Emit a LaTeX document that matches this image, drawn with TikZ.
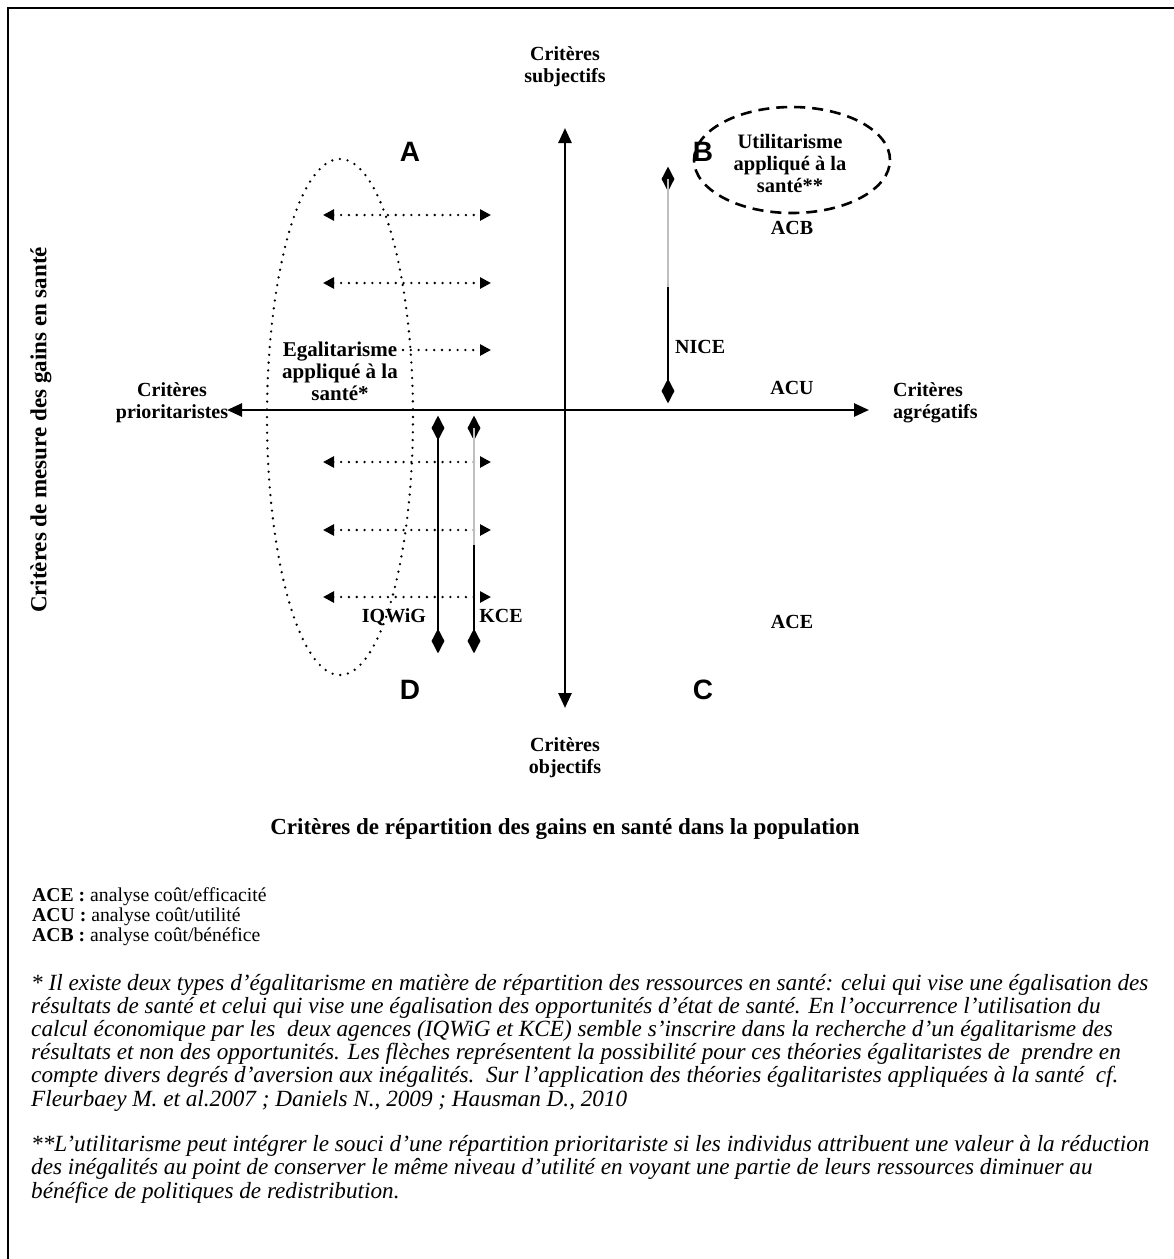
\documentclass[tikz,border=0pt]{standalone}
\usepackage{fontspec}
\setmainfont{Liberation Serif}
\newfontfamily\lettersf{Liberation Sans}
\usetikzlibrary{arrows.meta,shapes.geometric}
\begin{document}
\begin{tikzpicture}[x=1pt,y=-1pt,
  lbl/.style={font=\fontsize{20}{22}\selectfont\bfseries, align=center, inner sep=0pt},
  biglbl/.style={font=\fontsize{23}{25}\selectfont\bfseries, align=center, inner sep=0pt},
  quad/.style={font=\fontsize{28}{30}\selectfont\lettersf\bfseries, inner sep=0pt},
  axis/.style={line width=2.6pt, {Triangle[length=15pt,width=13pt]}-{Triangle[length=15pt,width=13pt]}},
  dots/.style={line width=2.6pt, dash pattern=on 0pt off 7.8pt, line cap=round},
  dotarrow/.style={dots,
     {Triangle[length=11pt,width=11pt,line cap=butt]}-{Triangle[length=11pt,width=11pt,line cap=butt]}},
  dotarrowr/.style={dots, -{Triangle[length=11pt,width=11pt,line cap=butt]}},
  dia/.style={shape=diamond, fill=black, draw=none, minimum width=13pt, minimum height=25pt, inner sep=0pt},
  vbar/.style={line width=2.8pt},
  gbar/.style={line width=2.8pt, draw=black!25},
  foot/.style={font=\fontsize{23.2}{23.2}\selectfont\itshape, align=left, anchor=base west, inner sep=0pt},
  leg/.style={font=\fontsize{19.7}{20}\selectfont, anchor=west, inner sep=0pt}
]
\useasboundingbox (0,0) rectangle (1174,1259);
% frame
\draw[line width=2.8pt] (1174,8) -- (8,8) -- (8,1259);

% axes
\coordinate (axT) at (565,128);
\coordinate (axB) at (565,708);
\coordinate (axL) at (227,410);
\coordinate (axR) at (869,410);
\draw[axis] (axB) -- (axT);
\draw[axis] (axL) -- (axR);

% axis labels
\node[lbl] (subj) at (565,67) {Critères\\subjectifs};
\node[lbl] (obj) at (565,758) {Critères\\objectifs};
\node[lbl] (prio) at (172,403) {Critères\\prioritaristes};
\node[lbl, align=left, anchor=west] (agr) at (893,403) {Critères\\agrégatifs};
\node[biglbl, rotate=90] (ylab) at (41,430) {Critères de mesure des gains en santé};
\node[biglbl] (xlab) at (565,829) {Critères de répartition des gains en santé dans la population};

% quadrant letters
\node[quad] (qA) at (410,152) {A};
\node[quad] (qB) at (703,152) {B};
\node[quad] (qC) at (703,690) {C};
\node[quad] (qD) at (410,690) {D};

% dotted ellipse (egalitarism)
\node[draw, ellipse, dots, minimum width=146pt, minimum height=516pt, inner sep=0pt] (egEll) at (340,417) {};

% dotted arrows
\coordinate (l1) at (323,215); \coordinate (r1) at (491,215);
\coordinate (l2) at (323,283); \coordinate (r2) at (491,283);
\coordinate (l3) at (403,350); \coordinate (r3) at (491,350);
\coordinate (l4) at (323,462); \coordinate (r4) at (491,462);
\coordinate (l5) at (323,530); \coordinate (r5) at (491,530);
\coordinate (l6) at (323,597); \coordinate (r6) at (491,597);
\draw[dotarrow] (l1) -- (r1);
\draw[dotarrow] (l2) -- (r2);
\draw[dotarrowr] (l3) -- (r3);
\draw[dotarrow] (l4) -- (r4);
\draw[dotarrow] (l5) -- (r5);
\draw[dotarrow] (l6) -- (r6);

\node[lbl, font=\fontsize{21}{22}\selectfont\bfseries] (egal) at (340,371) {Egalitarisme\\appliqué à la\\santé*};

% dashed ellipse (utilitarism)
\node[draw, ellipse, line width=2.6pt, dash pattern=on 11pt off 7pt,
      minimum width=196pt, minimum height=106pt, inner sep=0pt] (utEll) at (792,160) {};
\node[lbl, font=\fontsize{20.5}{22}\selectfont\bfseries] (util) at (790,163) {Utilitarisme\\appliqué à la\\santé**};

% NICE
\node[dia] (niceT) at (668,179) {};
\node[dia] (niceB) at (668,391) {};
\coordinate (niceM) at (668,287);
\draw[gbar] (niceT.center) -- (niceM);
\draw[vbar] (niceM) -- (niceB.center);
\node[lbl, anchor=west] (nice) at (675,347) {NICE};

% IQWiG
\node[dia] (iqT) at (438,428) {};
\node[dia] (iqB) at (438,641) {};
\draw[vbar] (iqT.center) -- (iqB.center);
\node[lbl] (iq) at (394,617) {IQWiG};

% KCE
\node[dia] (kceT) at (474,428) {};
\node[dia] (kceB) at (474,641) {};
\coordinate (kceM) at (474,545);
\draw[gbar] (kceT.center) -- (kceM);
\draw[vbar] (kceM) -- (kceB.center);
\node[lbl] (kce) at (501,616) {KCE};

% method labels
\node[lbl] (acb) at (792,228) {ACB};
\node[lbl] (acu) at (792,388) {ACU};
\node[lbl] (ace) at (792,622) {ACE};

% legend
\node[leg] (lg1) at (32,897) {\textbf{ACE :} analyse coût/efficacité};
\node[leg] (lg2) at (32,917) {\textbf{ACU :} analyse coût/utilité};
\node[leg] (lg3) at (32,937) {\textbf{ACB :} analyse coût/bénéfice};

% footnotes (anchored at the baseline of their last line)
\node[foot] (fn1) at (31,1106) {* Il existe deux types d’égalitarisme en matière de répartition des ressources en santé: celui qui vise une égalisation des\\
résultats de santé et celui qui vise une égalisation des opportunités d’état de santé. En l’occurrence l’utilisation du\\
calcul économique par les\ \ deux agences (IQWiG et KCE) semble s’inscrire dans la recherche d’un égalitarisme des\\
résultats et non des opportunités. Les flèches représentent la possibilité pour ces théories égalitaristes de\ \ prendre en\\
compte divers degrés d’aversion aux inégalités.\ \ Sur l’application des théories égalitaristes appliquées à la santé\ \ cf.\\
Fleurbaey M. et al.2007 ; Daniels N., 2009 ; Hausman D., 2010};
\node[foot] (fn2) at (31,1198) {**L’utilitarisme peut intégrer le souci d’une répartition prioritariste si les individus attribuent une valeur à la réduction\\
des inégalités au point de conserver le même niveau d’utilité en voyant une partie de leurs ressources diminuer au\\
bénéfice de politiques de redistribution.};
\end{tikzpicture}
\end{document}
